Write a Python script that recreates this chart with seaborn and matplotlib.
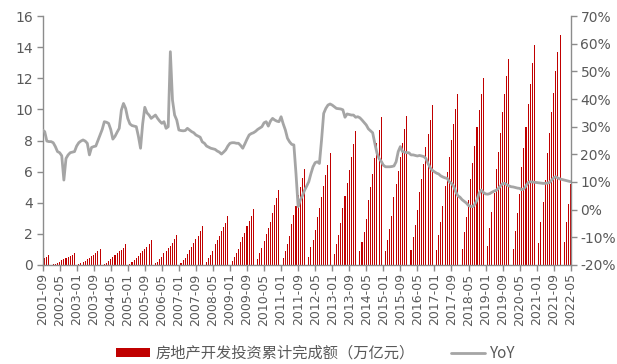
import numpy as np
import pandas as pd
import matplotlib
matplotlib.use("Agg")
import matplotlib.pyplot as plt
from matplotlib.patches import Patch
from matplotlib.lines import Line2D
import seaborn as sns

# Cumulative real-estate development investment (trillion yuan), Feb..Dec each year
# (January is reported together with February, so it has no bar)
inv_2001 = [0.43, 0.47, 0.53, 0.63]              # Sep..Dec
inv_2002 = [0.04, 0.09, 0.15, 0.21, 0.30, 0.36, 0.43, 0.51, 0.58, 0.66, 0.78]
inv_2003 = [0.05, 0.12, 0.20, 0.28, 0.40, 0.48, 0.57, 0.67, 0.76, 0.87, 1.02]
inv_2004 = [0.07, 0.16, 0.26, 0.36, 0.52, 0.62, 0.74, 0.87, 0.98, 1.12, 1.32]
inv_2005 = [0.09, 0.17, 0.30, 0.43, 0.60, 0.74, 0.87, 1.02, 1.17, 1.34, 1.59]
inv_2006 = [0.10, 0.22, 0.37, 0.53, 0.75, 0.90, 1.06, 1.25, 1.43, 1.65, 1.94]
inv_2007 = [0.13, 0.29, 0.48, 0.68, 0.97, 1.17, 1.39, 1.64, 1.88, 2.16, 2.53]
inv_2008 = [0.19, 0.42, 0.65, 0.93, 1.32, 1.58, 1.86, 2.16, 2.46, 2.68, 3.12]
inv_2009 = [0.25, 0.49, 0.75, 1.03, 1.48, 1.78, 2.08, 2.51, 2.80, 3.12, 3.62]
inv_2010 = [0.37, 0.75, 1.08, 1.52, 2.00, 2.38, 2.78, 3.34, 3.84, 4.30, 4.83]
inv_2011 = [0.48, 0.92, 1.38, 1.88, 2.62, 3.20, 3.78, 4.47, 5.01, 5.58, 6.17]
inv_2012 = [0.52, 1.14, 1.60, 2.25, 3.06, 3.68, 4.39, 5.10, 5.76, 6.45, 7.18]
inv_2013 = [0.69, 1.35, 1.93, 2.72, 3.66, 4.43, 5.25, 6.10, 6.92, 7.78, 8.60]
inv_2014 = [0.87, 1.45, 2.12, 2.95, 4.20, 5.00, 5.84, 6.88, 7.81, 8.70, 9.50]
inv_2015 = [0.88, 1.60, 2.30, 3.18, 4.36, 5.20, 6.05, 6.95, 7.84, 8.76, 9.60]
inv_2016 = [0.94, 1.77, 2.60, 3.52, 4.66, 5.54, 6.46, 7.56, 8.43, 9.33, 10.26]
inv_2017 = [0.99, 1.93, 2.77, 3.79, 5.06, 5.98, 6.96, 8.06, 9.05, 10.04, 10.98]
inv_2018 = [1.04, 2.13, 3.06, 4.19, 5.55, 6.53, 7.65, 8.89, 9.93, 11.01, 12.03]
inv_2019 = [1.21, 2.38, 3.42, 4.61, 6.16, 7.28, 8.46, 9.80, 10.96, 12.13, 13.22]
inv_2020 = [1.01, 2.20, 3.31, 4.59, 6.28, 7.53, 8.85, 10.35, 11.66, 12.95, 14.14]
inv_2021 = [1.40, 2.76, 4.02, 5.43, 7.22, 8.49, 9.80, 11.07, 12.46, 13.69, 14.76]
inv_2022 = [1.45, 2.78, 3.92, 5.21]              # Feb..May

# Year-on-year growth (%), every month
yoy_2001 = [28.8, 28.2, 24.8, 24.6]              # Sep..Dec
yoy_2002 = [24.6, 24.2, 22.8, 21.0, 20.6, 19.5, 10.7, 18.5, 19.8, 20.6, 20.8, 21.0]
yoy_2003 = [23.0, 24.2, 24.8, 25.2, 24.8, 24.0, 19.8, 22.5, 22.8, 23.0, 25.0, 27.0]
yoy_2004 = [29.0, 31.8, 31.6, 31.2, 29.0, 25.5, 26.5, 28.0, 29.4, 36.0, 38.4, 36.6]
yoy_2005 = [33.0, 31.0, 30.4, 30.2, 30.0, 26.5, 22.2, 31.0, 37.0, 35.0, 34.2, 33.0]
yoy_2006 = [33.6, 34.2, 33.0, 32.0, 31.2, 31.8, 29.4, 30.0, 57.1, 39.6, 34.2, 32.4]
yoy_2007 = [28.8, 28.6, 28.5, 28.6, 29.4, 28.8, 28.2, 27.8, 27.0, 26.6, 26.2, 24.5]
yoy_2008 = [24.0, 23.0, 22.6, 22.2, 22.0, 21.8, 21.2, 20.8, 20.1, 20.8, 21.6, 23.0]
yoy_2009 = [24.0, 24.2, 24.2, 24.0, 24.0, 23.2, 22.2, 23.8, 25.5, 27.0, 27.5, 27.8]
yoy_2010 = [28.3, 29.0, 29.5, 30.0, 31.4, 31.8, 30.2, 32.0, 33.0, 32.4, 32.0, 31.8]
yoy_2011 = [33.6, 31.0, 28.8, 25.8, 24.5, 23.6, 23.4, 13.0, 1.1, 3.5, 5.0, 7.0]
yoy_2012 = [8.5, 10.1, 13.0, 15.5, 17.0, 17.3, 16.7, 25.2, 34.8, 36.6, 37.8, 38.2]
yoy_2013 = [37.8, 37.2, 36.6, 36.5, 36.4, 36.1, 33.4, 34.6, 34.4, 34.2, 34.2, 33.4]
yoy_2014 = [33.6, 33.2, 32.4, 31.5, 30.6, 29.2, 28.5, 27.8, 24.0, 20.5, 18.5, 17.5]
yoy_2015 = [16.1, 15.5, 15.5, 15.5, 15.6, 15.8, 17.3, 21.0, 22.8, 21.0, 20.8, 20.6]
yoy_2016 = [20.6, 19.8, 19.8, 19.6, 19.4, 19.6, 19.4, 19.2, 18.5, 16.7, 15.2, 14.2]
yoy_2017 = [13.7, 13.2, 12.9, 12.2, 11.8, 11.5, 11.3, 10.1, 9.5, 8.5, 6.5, 5.0]
yoy_2018 = [4.5, 3.6, 3.0, 2.4, 1.5, 1.2, 1.1, 2.0, 3.5, 6.0, 7.1, 6.2]
yoy_2019 = [5.7, 5.6, 5.8, 6.3, 6.7, 7.0, 7.6, 8.6, 9.4, 9.5, 9.0, 8.6]
yoy_2020 = [8.3, 8.2, 8.0, 7.8, 7.7, 7.2, 7.5, 8.6, 9.8, 10.1, 10.0, 9.9]
yoy_2021 = [9.8, 9.7, 9.6, 9.5, 9.5, 9.6, 9.8, 10.6, 11.5, 11.9, 11.4, 11.1]
yoy_2022 = [10.9, 10.7, 10.5, 10.3, 10.1]        # Jan..May

# ---- assemble monthly tables ------------------------------------------------
months = pd.date_range("2001-09-01", "2022-05-01", freq="MS")
month_labels = [d.strftime("%Y-%m") for d in months]

inv_by_year = {2001: inv_2001, 2002: inv_2002, 2003: inv_2003, 2004: inv_2004,
               2005: inv_2005, 2006: inv_2006, 2007: inv_2007, 2008: inv_2008,
               2009: inv_2009, 2010: inv_2010, 2011: inv_2011, 2012: inv_2012,
               2013: inv_2013, 2014: inv_2014, 2015: inv_2015, 2016: inv_2016,
               2017: inv_2017, 2018: inv_2018, 2019: inv_2019, 2020: inv_2020,
               2021: inv_2021, 2022: inv_2022}
yoy_by_year = [yoy_2001, yoy_2002, yoy_2003, yoy_2004, yoy_2005, yoy_2006,
               yoy_2007, yoy_2008, yoy_2009, yoy_2010, yoy_2011, yoy_2012,
               yoy_2013, yoy_2014, yoy_2015, yoy_2016, yoy_2017, yoy_2018,
               yoy_2019, yoy_2020, yoy_2021, yoy_2022]

bar_rows = []
for year, vals in inv_by_year.items():
    first_month = 9 if year == 2001 else 2
    for k, v in enumerate(vals):
        bar_rows.append({"month": f"{year}-{first_month + k:02d}", "value": v})
bar_df = pd.DataFrame(bar_rows)

yoy = np.concatenate(yoy_by_year)
line_df = pd.DataFrame({"pos": np.arange(len(month_labels)), "yoy": yoy})

# ---- styling -----------------------------------------------------------------
sns.set_style("white")
plt.rcParams["font.family"] = ["DejaVu Sans"]
text_gray = "#595959"
axis_gray = "#8C8C8C"
bar_red = "#C00000"
line_gray = "#A5A5A5"

fig = plt.figure(figsize=(6.17, 3.64), dpi=100)
ax = fig.add_axes([0.069, 0.272, 0.856, 0.684])

sns.barplot(data=bar_df, x="month", y="value", order=month_labels,
            color=bar_red, saturation=1, width=0.5, errorbar=None,
            linewidth=0, ax=ax)

ax2 = ax.twinx()
sns.lineplot(data=line_df, x="pos", y="yoy", color=line_gray, linewidth=2.0,
             ax=ax2)

n = len(month_labels)
ax.set_xlim(0, n - 1)
ax.set_ylim(0, 16)
ax.set_yticks(np.arange(0, 17, 2))
ax2.set_ylim(-20, 70)
ax2.set_yticks(np.arange(-20, 71, 10))
ax2.set_yticklabels([f"{t}%" for t in range(-20, 71, 10)])

tick_pos = list(range(0, n, 8))
ax.set_xticks(tick_pos)
ax.set_xticklabels([month_labels[i] for i in tick_pos], rotation=90)

for a in (ax, ax2):
    a.set_xlabel("")
    a.set_ylabel("")
    a.grid(False)
    a.spines["top"].set_visible(False)
ax.spines["right"].set_visible(False)
ax2.spines["left"].set_visible(False)
ax2.spines["bottom"].set_visible(False)
for sp in (ax.spines["left"], ax.spines["bottom"], ax2.spines["right"]):
    sp.set_color(axis_gray)
    sp.set_linewidth(1.0)

ax.tick_params(axis="x", direction="out", length=4, width=1, color=axis_gray,
               labelsize=9, labelcolor=text_gray, pad=2, bottom=True)
ax.tick_params(axis="y", direction="out", length=4, width=1, color=axis_gray,
               labelsize=10, labelcolor=text_gray, pad=3, left=True)
ax2.tick_params(axis="y", direction="out", length=4, width=1, color=axis_gray,
                labelsize=10, labelcolor=text_gray, pad=3, right=True)

handles = [Patch(facecolor=bar_red, edgecolor="none"),
           Line2D([0], [0], color=line_gray, linewidth=2.0)]
labels = ["房地产开发投资累计完成额（万亿元）", "YoY"]
fig.legend(handles, labels, loc="center", bbox_to_anchor=(0.512, 0.03),
           ncol=2, frameon=False, handlelength=2.2, handleheight=0.5,
           handletextpad=0.35, columnspacing=2.4,
           prop={"family": ["Noto Sans CJK SC", "DejaVu Sans"], "size": 11},
           labelcolor=text_gray)

fig.savefig("out.png", dpi=100)
